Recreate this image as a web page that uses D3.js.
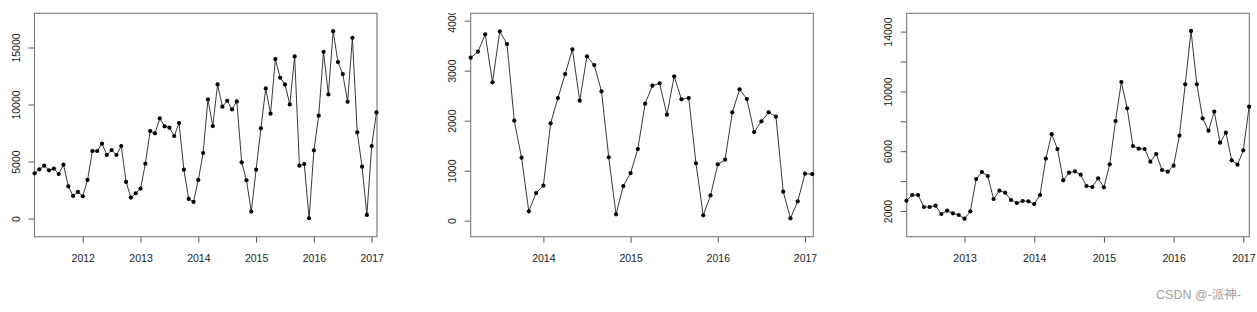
<!DOCTYPE html>
<html>
<head>
<meta charset="utf-8">
<script src="https://cdn.jsdelivr.net/npm/d3@7"></script>
<style>
  body { margin: 0; background: #fff; }
  svg { display: block; }
</style>
</head>
<body>
<div id="chart"></div>
<script>
// Monthly series
// panel 1: Mar 2011 .. Feb 2017
const series1 = [3970, 4320, 4640, 4230, 4380, 3910, 4730, 2830, 1985, 2335, 1956, 3386,
    5926, 5926, 6568, 5575, 6013, 5575, 6363, 3211, 1839, 2218, 2627, 4816,
    7677, 7473, 8786, 8086, 7969, 7239, 8378, 4291, 1722, 1460, 3386, 5750,
    10450, 8115, 11764, 9808, 10333, 9574, 10275, 4933, 3357, 613, 4291, 7910,
    11413, 9195, 13982, 12347, 11764, 10012, 14215, 4641, 4787, 29, 5984, 9020,
    14624, 10888, 16434, 13719, 12668, 10245, 15850, 7560, 4554, 321, 6363, 9312];
// panel 2: Mar 2013 .. Feb 2017
const series2 = [3260, 3380, 3727, 2767, 3787, 3533, 2000, 1260, 187, 553, 700, 1947,
    2453, 2933, 3427, 2400, 3287, 3113, 2587, 1267, 127, 693, 953, 1433,
    2340, 2700, 2747, 2120, 2887, 2427, 2453, 1147, 107, 507, 1127, 1220,
    2167, 2627, 2433, 1773, 1987, 2167, 2080, 580, 47, 387, 940, 933];
// panel 3: Mar 2012 .. Feb 2017
const series3 = [2691, 3070, 3070, 2268, 2268, 2357, 1799, 2022, 1844, 1732, 1487, 1978,
    4141, 4609, 4342, 2803, 3360, 3227, 2736, 2535, 2669, 2647, 2468, 3070,
    5510, 7140, 6148, 4052, 4565, 4654, 4431, 3673, 3606, 4185, 3583, 5122,
    8021, 10630, 8868, 6349, 6170, 6148, 5300, 5813, 4743, 4631, 5033, 7040,
    10474, 14042, 10474, 8199, 7374, 8645, 6572, 7240, 5390, 5100, 6059, 8980];

const starts = [[2011, 3], [2013, 3], [2012, 3]];

const xTicks1 = [2012, 2013, 2014, 2015, 2016, 2017];
const xTicks2 = [2014, 2015, 2016, 2017];
const xTicks3 = [2013, 2014, 2015, 2016, 2017];

const yTicks1 = [0, 5000, 10000, 15000];
const yTicks2 = [0, 1000, 2000, 3000, 4000];
const yTicks3 = [2000, 4000, 6000, 8000, 10000, 12000, 14000];
const yLabels3 = [2000, 6000, 10000, 14000];

const watermark = "CSDN @-派神-";

const W = 1257, H = 312;
const font = "'Liberation Sans', Arial, Helvetica, sans-serif";

const svg = d3.select("#chart").append("svg")
    .attr("width", W)
    .attr("height", H);

// clip for the y labels (the top one in panel 2 is cut off at the top)
svg.append("defs").append("clipPath")
    .attr("id", "labelclip")
    .append("rect")
    .attr("x", -2000).attr("y", 13).attr("width", 4000).attr("height", H);

function toSeries(values, start) {
    return values.map((v, i) => ({ t: start[0] + (start[1] - 1) / 12 + i / 12, v: v }));
}

function drawPanel(p) {
    const x = d3.scaleLinear().domain(p.xDomain).range([p.left, p.right]);
    const y = d3.scaleLinear().domain(p.yDomain).range([p.bottom, p.top]);
    const g = svg.append("g");

    // x axis ticks + labels
    const xa = g.append("g")
        .attr("transform", `translate(0,${p.bottom})`)
        .call(d3.axisBottom(x).tickValues(p.xTicks).tickFormat(d3.format("d"))
            .tickSize(6).tickSizeOuter(0).tickPadding(12));
    xa.select(".domain").remove();
    xa.selectAll("line").attr("stroke", "#555");
    xa.selectAll("text")
        .style("font-family", font)
        .style("font-size", "10.5px")
        .style("fill", "#222");

    // y axis, labels turned vertical like R
    const ya = g.append("g")
        .attr("transform", `translate(${p.left},0)`)
        .attr("clip-path", "url(#labelclip)")
        .call(d3.axisLeft(y).tickValues(p.yTicks)
            .tickFormat(d => p.yLabels.includes(d) ? d : "")
            .tickSize(6).tickSizeOuter(0));
    ya.select(".domain").remove();
    ya.selectAll("line").attr("stroke", "#555");
    ya.selectAll("text")
        .attr("transform", "rotate(-90)")
        .attr("x", 0)
        .attr("y", -18)
        .attr("dy", "0.35em")
        .attr("text-anchor", "middle")
        .style("font-family", font)
        .style("font-size", "10.5px")
        .style("fill", "#222");

    // box
    g.append("rect")
        .attr("x", p.left).attr("y", p.top)
        .attr("width", p.right - p.left).attr("height", p.bottom - p.top)
        .attr("fill", "none")
        .attr("stroke", "#777")
        .attr("stroke-width", 1.1);

    const line = d3.line().x(d => x(d.t)).y(d => y(d.v));
    g.append("path")
        .datum(p.data)
        .attr("fill", "none")
        .attr("stroke", "#222")
        .attr("stroke-width", 0.9)
        .attr("d", line);

    g.selectAll(".pt")
        .data(p.data)
        .enter().append("circle")
        .attr("class", "pt")
        .attr("cx", d => x(d.t))
        .attr("cy", d => y(d.v))
        .attr("r", 2.1)
        .attr("fill", "#000");
}

drawPanel({
    data: toSeries(series1, starts[0]),
    left: 34.5, right: 377, top: 13.3, bottom: 236.7,
    xDomain: [2011.165, 2017.092], yDomain: [-1590, 18000],
    xTicks: xTicks1, yTicks: yTicks1, yLabels: yTicks1
});
drawPanel({
    data: toSeries(series2, starts[1]),
    left: 470.7, right: 813.3, top: 13.3, bottom: 236.7,
    xDomain: [2013.167, 2017.095], yDomain: [-320, 4148],
    xTicks: xTicks2, yTicks: yTicks2, yLabels: yTicks2
});
drawPanel({
    data: toSeries(series3, starts[2]),
    left: 906.7, right: 1249.3, top: 13.3, bottom: 236.7,
    xDomain: [2012.17, 2017.086], yDomain: [281, 15224],
    xTicks: xTicks3, yTicks: yTicks3, yLabels: yLabels3
});

svg.append("text")
    .attr("x", 1241)
    .attr("y", 299)
    .attr("text-anchor", "end")
    .style("font-family", "'Liberation Sans', 'Noto Sans CJK SC', sans-serif")
    .style("font-size", "12.5px")
    .style("fill", "#a0a0a0")
    .text(watermark);
</script>
</body>
</html>
